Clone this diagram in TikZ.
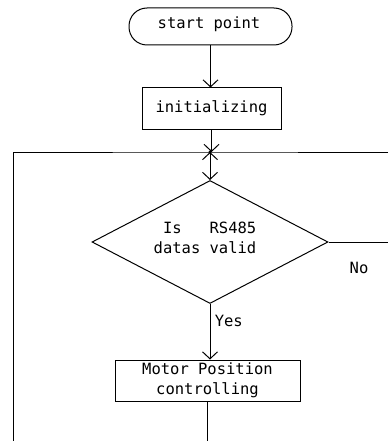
\documentclass[tikz,border=0pt]{standalone}
\usepackage{fontspec}
\setmonofont{DejaVu Sans Mono}
\usetikzlibrary{shapes.geometric,arrows.meta}
\begin{document}
\begin{tikzpicture}[x=1pt,y=-1pt,line width=1pt,
  every node/.style={font=\ttfamily\fontsize{15.5}{19.5}\selectfont},
  shape box/.style={draw,inner sep=0pt},
  barb/.tip={Straight Barb[length=7pt,width=15pt]},
  arr/.style={-barb}]
\useasboundingbox (0,0) rectangle (388,441);

% process blocks
\node[shape box,rounded corners=18pt,minimum width=163pt,minimum height=37pt] (start) at (210.5,26.5) {};
\node (starttxt) at (209,24) {start point};
\node[shape box,minimum width=139pt,minimum height=41pt] (init) at (211.5,108.5) {initializing};
\coordinate (J) at (210,152);
\node[draw,diamond,inner sep=0pt,minimum width=236pt,minimum height=123pt] (dec) at (210,242) {};
\node[align=right] (q) at (205,238) {Is\ \ \ RS485\\datas valid};
\node[shape box,minimum width=185pt,minimum height=41pt,align=center] (motor) at (207.5,380.5) {Motor Position\\controlling};

% loop frame
\coordinate (LT) at (13,152);
\coordinate (LB) at (13,441);
\coordinate (RT) at (388,152);
\coordinate (RE) at (388,244);

% connectors
\draw[arr] (start.south) -- (start.south |- init.north);
\draw[arr] (init.south) -- (init.south |- J);
\draw[barb-barb] (J) -- (dec.north);
\fill (J) circle (1.6pt);
\draw (RT) -- (J) -- (LT) -- (LB);
\draw (dec.east) -- (dec.east -| RE);
\draw[arr] (dec.south) -- (dec.south |- motor.north);
\draw (motor.south) -- (motor.south |- LB);

% branch labels
\node[anchor=west] (yes) at (211,321) {Yes};
\node (no) at (359,268) {No};
\end{tikzpicture}
\end{document}
